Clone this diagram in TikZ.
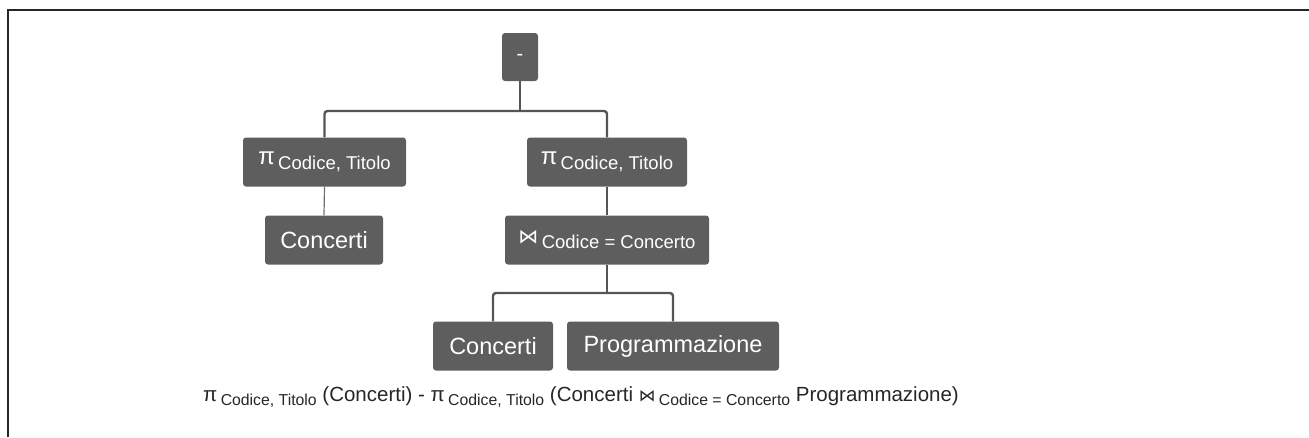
\documentclass[tikz,border=0pt]{standalone}
\usepackage{fontspec}
\setmainfont{Liberation Sans}
\newfontfamily\djv{DejaVu Sans}
\definecolor{boxg}{HTML}{5E5E5E}
\definecolor{lineg}{HTML}{555555}
\definecolor{thing}{HTML}{6E6E6E}
\newcommand\mysub[1]{\raisebox{-5pt}{\fontsize{18.5}{20}\selectfont #1}}
\newcommand\mypi{{\fontsize{24}{26}\selectfont π}}
\newcommand\myjoin{{\djv\fontsize{20}{22}\selectfont ⋈}}
\newcommand\capsub[1]{\raisebox{-4.5pt}{\fontsize{15.8}{18}\selectfont #1}}
\newcommand\cappi{{\fontsize{20.5}{22}\selectfont π}}
\newcommand\capjoin{{\djv\fontsize{16.7}{18}\selectfont ⋈}}
\begin{document}
\begin{tikzpicture}[x=1pt,y=-1pt,
  box/.style={fill=boxg, rounded corners=3pt, text=white, inner sep=0pt, font=\fontsize{20}{24}\selectfont},
  conn/.style={draw=lineg, line width=2.4pt, rounded corners=3pt},
  thinconn/.style={draw=thing, line width=1.2pt}]
\useasboundingbox (0,0) rectangle (1309,437);
\draw[line width=1.5pt, draw=black!85] (8,437) -- (8,10) -- (1309,10);

\node[box, minimum width=36pt, minimum height=48pt] (minus) at (520,57) {-};
\node[box, minimum width=163pt, minimum height=49pt] (p1) at (324.5,162) {\mypi\,\mysub{Codice, Titolo}};
\node[box, minimum width=160pt, minimum height=49pt] (p2) at (607,162) {\mypi\,\mysub{Codice, Titolo}};
\node[box, minimum width=118pt, minimum height=49pt, font=\fontsize{23.5}{26}\selectfont] (c1) at (324,240) {Concerti};
\node[box, minimum width=204pt, minimum height=49pt] (j) at (607,240) {\myjoin\,\mysub{Codice = Concerto}};
\node[box, minimum width=120pt, minimum height=49pt, font=\fontsize{23.5}{26}\selectfont] (c2) at (493,346) {Concerti};
\node[box, minimum width=212pt, minimum height=49pt, font=\fontsize{23.5}{26}\selectfont] (prog) at (673,346) {Programmazione};

\coordinate (s1) at (520,111);
\coordinate (s2) at (607,293);
\draw[conn] (minus.south) -- (s1);
\draw[conn] (p1.north) |- (s1) -| (p2.north);
\draw[thinconn] (p1.south) -- (c1.north);
\draw[conn] (p2.south) -- (j.north);
\draw[conn] (j.south) -- (s2);
\draw[conn] (c2.north) |- (s2) -| (prog.north);

\node[font=\fontsize{20.5}{22}\selectfont, inner sep=0pt, anchor=west, text=black!85] (cap) at (203,397)
  {\cappi\,\capsub{Codice, Titolo} (Concerti) - \cappi\,\capsub{Codice, Titolo} (Concerti \capjoin\,\capsub{Codice = Concerto} Programmazione)};
\end{tikzpicture}
\end{document}
